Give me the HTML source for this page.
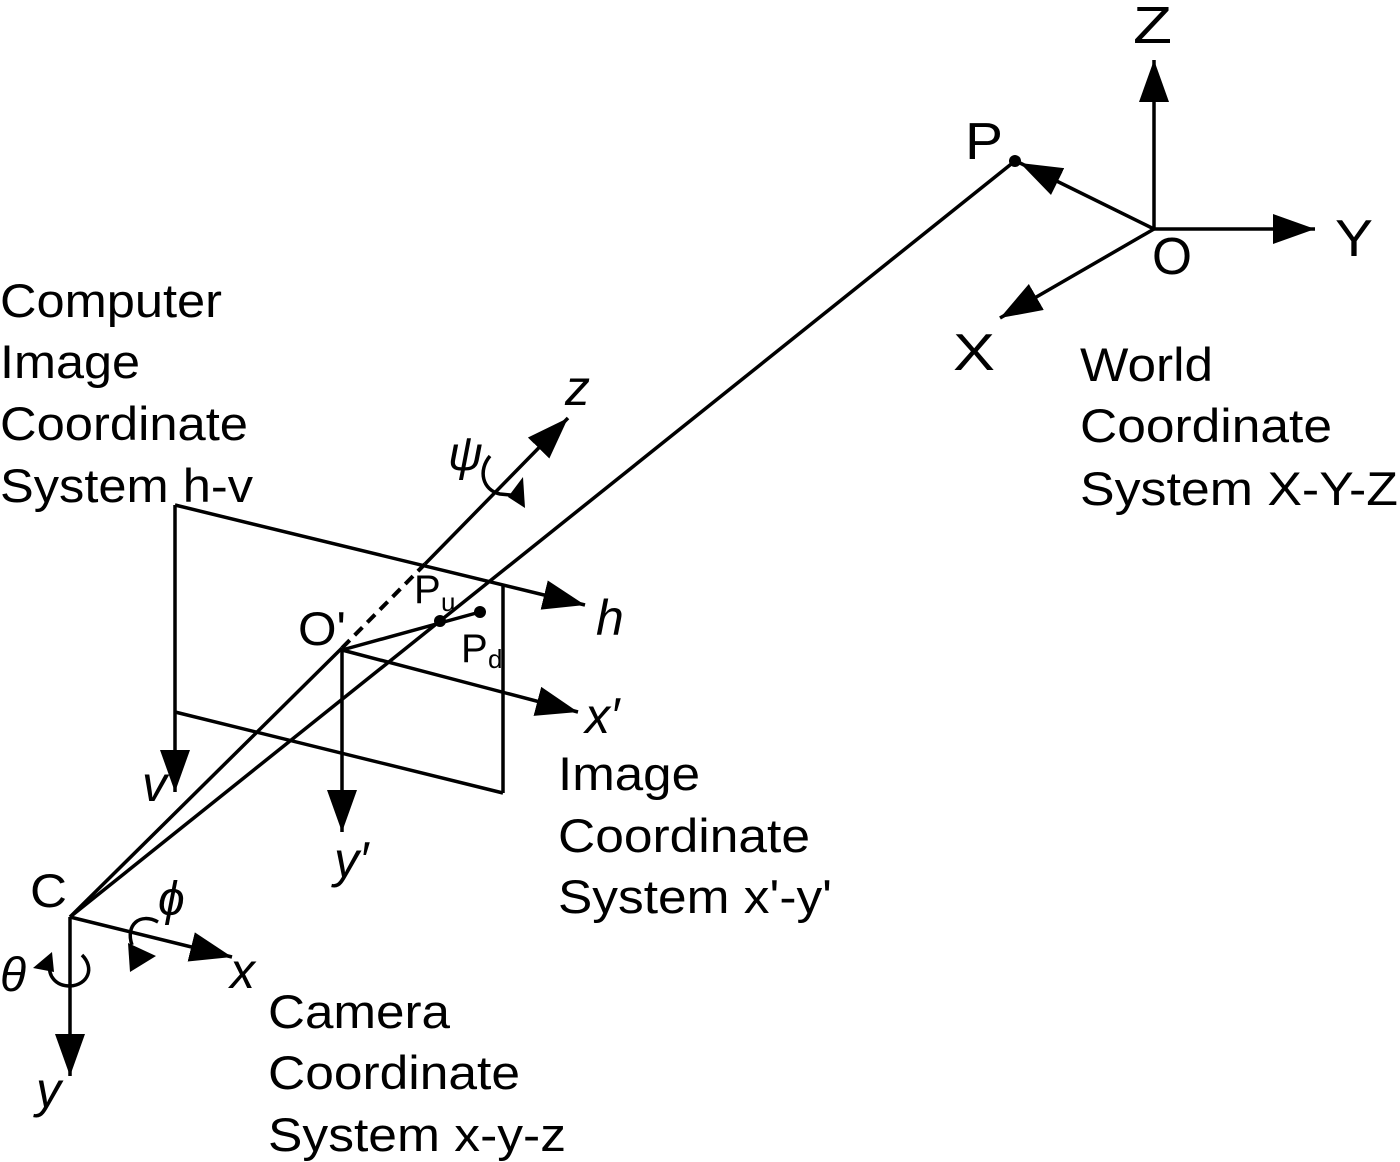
<!DOCTYPE html>
<html><head><meta charset="utf-8"><style>
html,body{margin:0;padding:0;background:#fff;}
svg{display:block;}
text{font-family:"Liberation Sans",Arial,sans-serif;fill:#000;}
.it{font-style:italic;}
.sr{font-family:"Liberation Serif",serif;font-style:italic;}
</style></head><body>
<svg width="1400" height="1162" viewBox="0 0 1400 1162" xmlns="http://www.w3.org/2000/svg">
<defs>
<marker id="a" markerWidth="42" markerHeight="30" refX="42" refY="15" orient="auto" markerUnits="userSpaceOnUse">
<polygon points="0,0 42,15 0,30" fill="#000"/>
</marker>
</defs>
<g stroke="#000" stroke-width="3.5" fill="none">
<line x1="1154" y1="229" x2="1154" y2="60" marker-end="url(#a)"/>
<line x1="1154" y1="229" x2="1315" y2="229" marker-end="url(#a)"/>
<line x1="1154" y1="229" x2="1000" y2="318" marker-end="url(#a)"/>
<line x1="1154" y1="229" x2="1020" y2="163" marker-end="url(#a)"/>
<line x1="70" y1="917" x2="1015" y2="161"/>
<line x1="70" y1="917" x2="342" y2="648"/>
<line x1="342" y1="648" x2="425" y2="564" stroke-width="4" stroke-dasharray="11,7"/>
<line x1="425" y1="564" x2="568" y2="418" marker-end="url(#a)"/>
<line x1="70" y1="917" x2="70" y2="1076" marker-end="url(#a)"/>
<line x1="70" y1="917" x2="232" y2="957" marker-end="url(#a)"/>
<line x1="175" y1="505" x2="585" y2="605" marker-end="url(#a)"/>
<line x1="175" y1="505" x2="175" y2="792" marker-end="url(#a)"/>
<line x1="175" y1="712" x2="503" y2="793"/>
<line x1="503" y1="585" x2="503" y2="793"/>
<line x1="342" y1="650" x2="578" y2="712" marker-end="url(#a)"/>
<line x1="342" y1="650" x2="342" y2="832" marker-end="url(#a)"/>
<line x1="342" y1="650" x2="480" y2="612"/>
<path d="M490,456 C478,470 482,490 500,494 L520,496"/>
<path d="M82,955 C95,968 88,985 70,986 C55,986 48,975 50,965"/>
<path d="M158,922 C140,912 125,925 132,945"/>
</g>
<polygon points="523,477 525,508 508,497" fill="#000"/>
<polygon points="33,968 52,952 54,972" fill="#000"/>
<polygon points="128,943 156,956 130,972" fill="#000"/>
<circle cx="1015" cy="161" r="6" fill="#000"/>
<circle cx="440" cy="621" r="6" fill="#000"/>
<circle cx="480" cy="612" r="6" fill="#000"/>
<g font-size="52">
<text x="1133" y="43" textLength="39" lengthAdjust="spacingAndGlyphs">Z</text>
<text x="1335" y="256" textLength="38" lengthAdjust="spacingAndGlyphs">Y</text>
<text x="1152" y="274" textLength="40" lengthAdjust="spacingAndGlyphs">O</text>
<text x="953" y="370" textLength="42" lengthAdjust="spacingAndGlyphs">X</text>
<text x="965" y="159" textLength="38" lengthAdjust="spacingAndGlyphs">P</text>
</g>
<g font-size="47">
<text x="1080" y="381" textLength="133" lengthAdjust="spacingAndGlyphs">World</text>
<text x="1080" y="442" textLength="252" lengthAdjust="spacingAndGlyphs">Coordinate</text>
<text x="1080" y="505" textLength="318" lengthAdjust="spacingAndGlyphs">System X-Y-Z</text>
<text x="0" y="317" textLength="222" lengthAdjust="spacingAndGlyphs">Computer</text>
<text x="0" y="378" textLength="140" lengthAdjust="spacingAndGlyphs">Image</text>
<text x="0" y="440" textLength="248" lengthAdjust="spacingAndGlyphs">Coordinate</text>
<text x="0" y="502" textLength="253" lengthAdjust="spacingAndGlyphs">System h-v</text>
<text x="298" y="645" textLength="48" lengthAdjust="spacingAndGlyphs">O'</text>
<text x="558" y="790" textLength="142" lengthAdjust="spacingAndGlyphs">Image</text>
<text x="558" y="852" textLength="252" lengthAdjust="spacingAndGlyphs">Coordinate</text>
<text x="558" y="913" textLength="274" lengthAdjust="spacingAndGlyphs">System x'-y'</text>
<text x="30" y="907" textLength="37" lengthAdjust="spacingAndGlyphs">C</text>
<text x="268" y="1028" textLength="182" lengthAdjust="spacingAndGlyphs">Camera</text>
<text x="268" y="1089" textLength="252" lengthAdjust="spacingAndGlyphs">Coordinate</text>
<text x="268" y="1151" textLength="298" lengthAdjust="spacingAndGlyphs">System x-y-z</text>
</g>
<text x="414" y="603" font-size="40">P</text>
<text x="441" y="611" font-size="26">u</text>
<text x="461" y="662" font-size="40">P</text>
<text x="488" y="668" font-size="26">d</text>
<g font-size="50" class="it">
<text x="565" y="405">z</text>
<text x="596" y="635">h</text>
<text x="585" y="733">x′</text>
<text x="334" y="877">y′</text>
<text x="142" y="801">v</text>
<text x="230" y="988">x</text>
<text x="36" y="1107">y</text>
</g>
<g font-size="48" class="sr">
<text x="448" y="470">ψ</text>
<text x="158" y="915">ϕ</text>
<text x="0" y="991">θ</text>
</g>
</svg>
</body></html>
